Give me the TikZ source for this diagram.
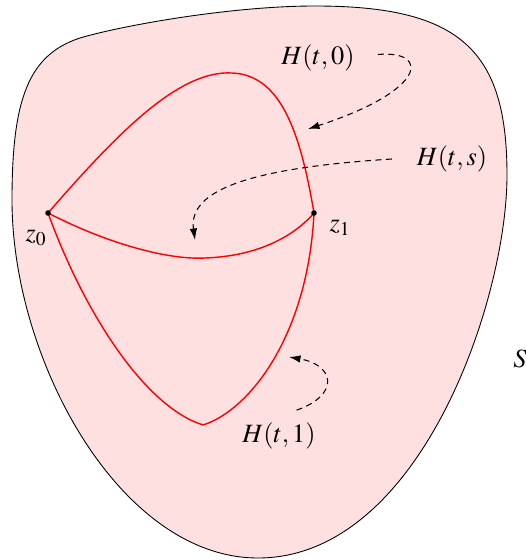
\documentclass[tikz,border=0pt]{standalone}
\usepackage{mathptmx}
\usepackage{tikz}
\usetikzlibrary{arrows.meta}
\definecolor{regionfill}{HTML}{FFE0E0}

\begin{document}
\begin{tikzpicture}[x=0.02cm, y=-0.02cm, font=\fontsize{15}{18}\selectfont,
  >={Latex[length=2.3mm, width=1.5mm]},
  loopline/.style={red, line width=0.8pt},
  hint/.style={->, line width=0.6pt, dash pattern=on 3.4pt off 2.6pt},
  lbl/.style={inner sep=0pt}]
  \useasboundingbox (0,0) rectangle (526,560);

  % Oblast S
  \draw[line width=0.5pt, fill=regionfill] (12,200)
    .. controls (12,100) and (28,55) .. (80,38)
    .. controls (120,26) and (230,6) .. (315,6)
    .. controls (460,6) and (507,50) .. (507,175)
    .. controls (507,300) and (420,558) .. (258,558)
    .. controls (120,558) and (12,360) .. cycle;
  \node[lbl] (S) at (520,359) {$S$};

  % Koncove body
  \coordinate (z0) at (48,213);
  \coordinate (z1) at (314,213);

  % Krivky homotopie
  \draw[loopline] (z0) .. controls (120,130) and (180,70) .. (232,73)
                       .. controls (280,75) and (300,130) .. (z1);
  \draw[loopline] (z0) .. controls (110,245) and (170,260) .. (205,258)
                       .. controls (260,256) and (295,235) .. (z1);
  \draw[loopline] (z0) .. controls (87,320) and (148,408) .. (203,425)
                       .. controls (250,410) and (308,335) .. (z1);

  \fill (z0) circle (2.8);
  \fill (z1) circle (2.8);
  \node[lbl] (lz0) at (36,238) {$z_0$};
  \node[lbl] (lz1) at (340,228) {$z_1$};

  % Popisky a sipky
  \node[lbl] (h0) at (318,58) {$H(t,0)$};
  \node[lbl] (hs) at (452,159) {$H(t,s)$};
  \node[lbl] (h1) at (279,436) {$H(t,1)$};
  \coordinate (tip0) at (308,129);
  \coordinate (tips) at (195,240);
  \coordinate (tip1) at (289,357);

  \draw[hint] ([xshift=13pt, yshift=2pt]h0.east) .. controls (430,50) and (428,90) .. (tip0);
  \draw[hint] ([xshift=-14pt]hs.west) .. controls (250,168) and (188,190) .. (tips);
  \draw[hint] ([xshift=10pt, yshift=7pt]h1.north) .. controls (340,395) and (335,365) .. (tip1);
\end{tikzpicture}
\end{document}
